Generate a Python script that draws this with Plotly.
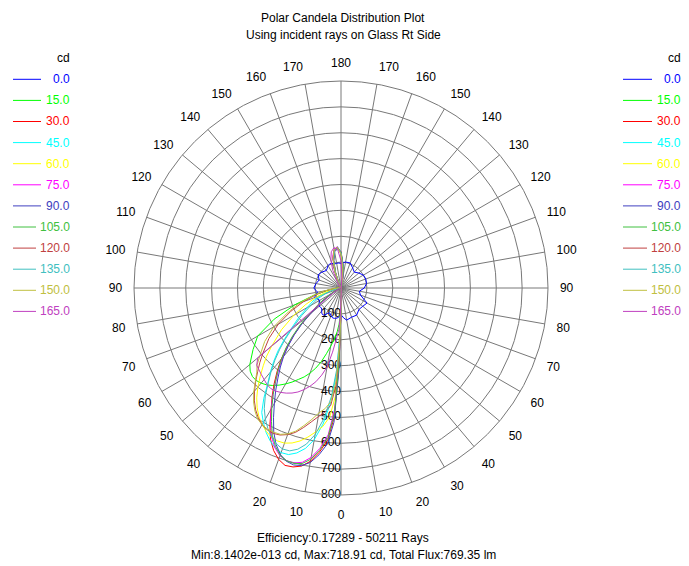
import plotly.graph_objects as go

# Vertical angle (deg) measured from nadir, clockwise on screen: 0 = down, 90 = left, 180 = up, 270 = right
gamma = [0, 1.5, 3, 5, 7.5, 10, 12.5, 15, 17.5, 20, 22.5, 25, 27.5, 30, 32.5, 35, 37.5, 40, 42.5, 45, 47.5, 50,
         55, 60, 65, 70, 75, 80, 85, 90,
         100, 110, 120, 130, 140, 150,
         155, 160, 165, 170, 175, 180, 185, 190,
         200, 210, 220, 230, 240, 250, 260, 270, 280, 290, 300, 310, 320, 330, 340, 350,
         355, 358.5]

plane_names = ["0.0", "15.0", "30.0", "45.0", "60.0", "75.0",
               "90.0", "105.0", "120.0", "135.0", "150.0", "165.0"]

plane_colors = ["#0000FF", "#00FF00", "#FF0000", "#00FFFF", "#FFFF00", "#FF00FF",
                "#4040C0", "#40C040", "#C04040", "#40C0C0", "#C0C040", "#C040C0"]

# Candela values per C-plane, one entry per gamma angle
cd_000 = [104, 106, 110, 114, 117, 119, 120, 120, 118, 113, 108, 106, 110, 118, 124, 125, 122, 116, 110, 108, 109, 110,
          104, 95, 100, 108, 102, 92, 98, 105,
          98, 90, 102, 96, 88, 100,
          103, 101, 96, 97, 97, 95, 98, 102,
          103, 90, 80, 90, 100, 102, 100, 90, 72, 80, 116, 110, 108, 121, 120, 126,
          116, 106]
cd_015 = [60, 100, 140, 170, 200, 228, 260, 295, 325, 350, 372, 390, 410, 428, 445, 460, 472, 480, 485, 484, 476, 460,
          415, 372, 285, 190, 110, 55, 25, 10,
          5, 4, 4, 4, 5, 8,
          25, 70, 120, 150, 158, 135, 80, 30,
          6, 4, 3, 3, 3, 3, 3, 3, 3, 3, 3, 3, 3, 3, 4, 6,
          12, 30]
cd_030 = [90, 300, 500, 590, 640, 680, 705, 716, 718.91, 705, 680, 645, 595, 540, 495, 450, 405, 360, 310, 260, 210, 155,
          80, 35, 18, 10, 6, 4, 3, 3,
          3, 3, 3, 3, 3, 6,
          20, 60, 110, 145, 155, 140, 90, 40,
          8, 4, 3, 3, 3, 3, 3, 3, 3, 3, 3, 3, 3, 3, 3, 5,
          15, 40]
cd_045 = [80, 200, 330, 440, 530, 595, 635, 660, 675, 677, 668, 650, 628, 600, 570, 520, 465, 425, 385, 345, 300, 260,
          200, 150, 120, 80, 45, 25, 12, 6,
          4, 3, 3, 3, 4, 7,
          22, 65, 115, 148, 160, 138, 85, 35,
          7, 4, 3, 3, 3, 3, 3, 3, 3, 3, 3, 3, 3, 3, 3, 5,
          14, 35]
cd_060 = [85, 260, 420, 500, 540, 565, 590, 612, 628, 638, 640, 636, 625, 610, 590, 565, 535, 500, 462, 425, 390, 350,
          280, 210, 150, 100, 60, 32, 15, 7,
          4, 3, 3, 3, 4, 7,
          24, 68, 118, 150, 156, 130, 78, 30,
          6, 4, 3, 3, 3, 3, 3, 3, 3, 3, 3, 3, 3, 3, 3, 5,
          14, 36]
cd_075 = [85, 280, 470, 570, 625, 665, 690, 700, 700, 690, 668, 635, 590, 540, 490, 440, 395, 350, 305, 258, 212, 165,
          95, 45, 22, 12, 7, 4, 3, 3,
          3, 3, 3, 3, 4, 8,
          26, 72, 125, 152, 160, 132, 76, 28,
          6, 4, 3, 3, 3, 3, 3, 3, 3, 3, 3, 3, 3, 3, 3, 5,
          15, 38]
cd_090 = [95, 320, 520, 605, 650, 685, 703, 708, 702, 685, 655, 615, 565, 515, 470, 425, 385, 345, 300, 255, 205, 150,
          75, 32, 16, 9, 5, 4, 3, 3,
          3, 3, 3, 3, 3, 6,
          20, 58, 108, 142, 152, 140, 92, 42,
          8, 4, 3, 3, 3, 3, 3, 3, 3, 3, 3, 3, 3, 3, 3, 5,
          16, 42]
cd_105 = [88, 290, 485, 580, 632, 672, 695, 702, 700, 688, 662, 628, 582, 535, 488, 442, 400, 358, 315, 268, 220, 170,
          100, 50, 25, 14, 8, 5, 3, 3,
          3, 3, 3, 3, 4, 7,
          22, 64, 114, 146, 157, 137, 84, 33,
          7, 4, 3, 3, 3, 3, 3, 3, 3, 3, 3, 3, 3, 3, 3, 5,
          15, 37]
cd_120 = [80, 230, 380, 455, 485, 505, 530, 558, 585, 603, 615, 620, 618, 610, 595, 575, 550, 520, 488, 455, 425, 395,
          340, 280, 215, 155, 100, 58, 28, 12,
          5, 3, 3, 3, 4, 7,
          23, 66, 117, 149, 158, 134, 80, 31,
          6, 4, 3, 3, 3, 3, 3, 3, 3, 3, 3, 3, 3, 3, 3, 5,
          14, 34]
cd_135 = [78, 190, 315, 420, 510, 575, 618, 645, 660, 662, 652, 635, 612, 585, 552, 510, 462, 420, 378, 335, 292, 250,
          185, 135, 100, 65, 38, 20, 10, 5,
          4, 3, 3, 3, 4, 7,
          21, 62, 112, 146, 156, 136, 86, 36,
          7, 4, 3, 3, 3, 3, 3, 3, 3, 3, 3, 3, 3, 3, 3, 5,
          14, 35]
cd_150 = [80, 220, 360, 440, 470, 490, 520, 550, 580, 600, 612, 615, 615, 610, 600, 580, 555, 525, 490, 460, 440, 410,
          360, 300, 230, 170, 110, 65, 30, 12,
          5, 3, 3, 3, 4, 7,
          24, 67, 119, 151, 157, 131, 79, 30,
          6, 4, 3, 3, 3, 3, 3, 3, 3, 3, 3, 3, 3, 3, 3, 5,
          14, 34]
cd_165 = [50, 110, 160, 195, 250, 310, 345, 375, 398, 418, 435, 448, 458, 466, 472, 474, 470, 462, 455, 448, 442, 420,
          60, 25, 15, 10, 6, 4, 3, 3,
          3, 3, 3, 4, 8, 30,
          75, 115, 145, 158, 150, 105, 40, 10,
          4, 3, 3, 3, 3, 3, 3, 3, 3, 3, 3, 3, 3, 3, 3, 4,
          10, 25]

planes = [cd_000, cd_015, cd_030, cd_045, cd_060, cd_075,
          cd_090, cd_105, cd_120, cd_135, cd_150, cd_165]

radial_ticks = [100, 200, 300, 400, 500, 600, 700, 800]
angle_ticks = list(range(0, 360, 10))
angle_text = [str(a if a <= 180 else 360 - a) for a in angle_ticks]

W, H = 689, 566
FONT = "Liberation Sans, Arial, sans-serif"
GRID = "#787878"

# polar area: centre (341, 288), radius 207 px
cx, cy, rad = 341, 288, 207


def px(x):
    return x / W


def py(y):
    return 1 - y / H


fig = go.Figure()

# radial value labels along the nadir direction (drawn first so curves sit on top)
fig.add_trace(go.Scatterpolar(
    r=radial_ticks, theta=[0] * len(radial_ticks),
    text=[str(v) for v in radial_ticks], mode="text",
    textposition="middle left",
    textfont=dict(family=FONT, size=12, color="black"),
    hoverinfo="skip", showlegend=False))

for name, col, vals in zip(plane_names, plane_colors, planes):
    fig.add_trace(go.Scatterpolar(
        r=vals + [vals[0]], theta=gamma + [360],
        mode="lines", line=dict(color=col, width=1),
        name=name, showlegend=False))

fig.update_layout(
    width=W, height=H, autosize=False,
    margin=dict(l=0, r=0, t=0, b=0),
    paper_bgcolor="white", plot_bgcolor="white",
    polar=dict(
        domain=dict(x=[px(cx - rad), px(cx + rad)], y=[py(cy + rad), py(cy - rad)]),
        bgcolor="white",
        radialaxis=dict(range=[0, 800], tickvals=radial_ticks, showticklabels=False,
                        ticks="", showline=False, gridcolor=GRID, gridwidth=1),
        angularaxis=dict(rotation=270, direction="clockwise",
                         tickvals=angle_ticks, ticktext=angle_text,
                         ticks="outside", ticklen=9, tickcolor="rgba(0,0,0,0)",
                         tickfont=dict(family=FONT, size=12, color="black"),
                         showline=True, linecolor=GRID, linewidth=1,
                         gridcolor=GRID, gridwidth=1),
    ),
)

ann = []
shapes = []
ann.append(dict(x=px(343), y=py(18), text="Polar Candela Distribution Plot"))
ann.append(dict(x=px(343), y=py(35), text="Using incident rays on Glass Rt Side"))
ann.append(dict(x=px(343), y=py(538), text="Efficiency:0.17289 - 50211 Rays"))
ann.append(dict(x=px(343), y=py(555), text="Min:8.1402e-013 cd, Max:718.91 cd, Total Flux:769.35 lm"))
for a in ann:
    a.update(xref="paper", yref="paper", xanchor="center", yanchor="middle", showarrow=False,
             font=dict(family=FONT, size=12, color="black"))

# two identical legend columns, left and right of the plot
for (lx0, lx1, tx) in [(13, 41, 72), (623, 652, 683)]:
    ann.append(dict(x=px(tx), y=py(58), text="cd", xref="paper", yref="paper",
                    xanchor="right", yanchor="middle", showarrow=False,
                    font=dict(family=FONT, size=12, color="black")))
    for i, (name, col) in enumerate(zip(plane_names, plane_colors)):
        yy = 79.3 + i * 21.1
        x_end = lx1 if len(name) < 5 else lx1 - 5
        shapes.append(dict(type="line", xref="paper", yref="paper",
                           x0=px(lx0), x1=px(x_end), y0=py(yy), y1=py(yy),
                           line=dict(color=col, width=1)))
        ann.append(dict(x=px(tx), y=py(yy), text=name, xref="paper", yref="paper",
                        xanchor="right", yanchor="middle", showarrow=False,
                        font=dict(family=FONT, size=12, color=col)))

fig.update_layout(annotations=ann, shapes=shapes)
fig.write_html("out.html")
